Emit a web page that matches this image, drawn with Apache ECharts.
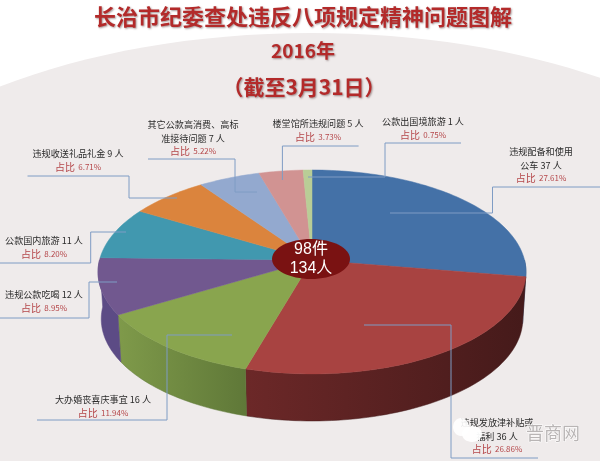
<!DOCTYPE html>
<html><head><meta charset="utf-8">
<style>html,body{margin:0;padding:0;background:#fff}#c{width:600px;height:461px}</style>
<script src="https://cdn.jsdelivr.net/npm/echarts@6/dist/echarts.min.js"></script></head>
<body><div id="c"></div>
<script>
var categories=['违规配备和使用公车','违规发放津补贴或福利','大办婚丧喜庆事宜','违规公款吃喝','公款国内旅游','违规收送礼品礼金','其它公款高消费、高标准接待问题','楼堂馆所违规问题','公款出国境旅游'];
var people=[37,36,16,12,11,9,7,5,1];
var shares=['27.61%','26.86%','11.94%','8.95%','8.20%','6.71%','5.22%','3.73%','0.75%'];
var topColors=['#4471a7','#a84341','#89a54e','#71588f','#4198af','#db843d','#93a9cf','#d19392','#b9cd96'];
var wallLeft=['#2f4f76','#6c2828','#7f9a4a','#5c4b85','#2d6b7b','#9a5c2b','#6a7a96','#94696a','#84926a'];
var wallRight=['#2f4f76','#451a1a','#5f7838','#5c4b85','#2d6b7b','#9a5c2b','#6a7a96','#94696a','#84926a'];
var labelLines=[['违规配备和使用','公车 37 人'],['违规发放津补贴或','福利 36 人'],['大办婚丧喜庆事宜 16 人'],['违规公款吃喝 12 人'],['公款国内旅游 11 人'],['违规收送礼品礼金 9 人'],['其它公款高消费、高标','准接待问题 7 人'],['楼堂馆所违规问题 5 人'],['公款出国境旅游 1 人']];
var titleLines=['长治市纪委查处违反八项规定精神问题图解','2016年','（截至3月31日）'];
var centerLines=['98件','134人'];

// layout (not data)
var P={cx:312,apexY:260,a:70,c:-0.1176,k:212.5,depth:47,shrink:0.985};
var labelAt=[[541,152],[497,423],[103,400],[44,295],[44,241],[78,154],[193,125],[318,124],[423,122]];
var leaders=[
 [[600,187],[492.5,187],[492.5,213],[390,213]],
 [[538,458],[451,458],[451,325],[364,325]],
 [[37,420],[167,420],[167,335],[232,335]],
 [[0,318],[89,318],[89,282],[117,282]],
 [[0,263],[90.7,263],[90.7,232],[126,232]],
 [[27.5,176],[129,176],[129,198],[177,198]],
 [[148,159],[235,159],[235,192],[257,192]],
 [[358.6,146],[282.4,146],[282.4,180]],
 [[461,143],[385,143],[385,177],[308,177]]
];

var total=people.reduce(function(a,b){return a+b},0);
var starts=[],acc=0;people.forEach(function(v){starts.push(acc/total*360);acc+=v});
function proj(deg){var t=deg*Math.PI/180,u=Math.sin(t),v=-Math.cos(t),d=1+P.c*v;
 return [P.cx+P.k*u/d,(P.a*v+P.apexY)/d]}
function arc(a,b){var n=Math.max(2,Math.ceil((b-a)/1.5)),o=[];for(var i=0;i<=n;i++)o.push(proj(a+(b-a)*i/n));return o}
function renderTop(params,api){var i=params.dataIndex,a=starts[i],b=a+api.value(0)/total*360;
 var pts=[[P.cx,P.apexY]].concat(arc(a,b));
 return {type:'polygon',shape:{points:pts},style:{fill:topColors[i],stroke:topColors[i],lineWidth:0.5}}}
function renderWall(params,api){var i=params.dataIndex,a=Math.max(starts[i],90),b=Math.min(starts[i]+api.value(0)/total*360,270);
 if(b<=a)return null;
 var up=arc(a,b),low=up.map(function(p){return [P.cx+(p[0]-P.cx)*P.shrink,p[1]+P.depth]}).reverse();
 return {type:'polygon',shape:{points:up.concat(low)},style:{stroke:wallRight[i],lineWidth:0.5,
  fill:new echarts.graphic.LinearGradient(0,0,1,0,[{offset:0,color:wallLeft[i]},{offset:1,color:wallRight[i]}])}}}

var graphics=[{type:'ellipse',z:-10,shape:{cx:312,cy:284,rx:505,ry:251},style:{fill:'#efebeb'}}];
leaders.forEach(function(p){graphics.push({type:'polyline',z:20,shape:{points:p},style:{stroke:'#7f9cc4',lineWidth:1,fill:null}})});
labelLines.forEach(function(lines,i){var at=labelAt[i];
 lines.forEach(function(t,j){graphics.push({type:'text',z:21,x:at[0],y:at[1]+j*13.5,style:{text:t,align:'center',verticalAlign:'middle',fill:'#2b2b2b',font:'9.1px "Noto Sans CJK SC"'}})});
 graphics.push({type:'text',z:21,x:at[0],y:at[1]+lines.length*13,style:{align:'center',verticalAlign:'middle',
  rich:{a:{fill:'#b5474a',font:'10px "Noto Sans CJK SC"'},b:{fill:'#b5474a',font:'8px "Noto Sans CJK SC"'}},text:'{a|占比} {b|'+shares[i]+'}'}});
});
graphics.push({type:'ellipse',z:22,shape:{cx:311,cy:259,rx:39,ry:20},style:{fill:'#7a1212'}});
centerLines.forEach(function(t,j){graphics.push({type:'text',z:23,x:311,y:250+j*19,style:{text:t,align:'center',verticalAlign:'middle',fill:'#fff',font:'16px "Liberation Sans","Noto Sans CJK SC"'}})});
// watermark
graphics.push({type:'ellipse',z:24,shape:{cx:461,cy:427,rx:8,ry:9},style:{fill:'rgba(255,255,255,.9)'}});
graphics.push({type:'ellipse',z:24,shape:{cx:472,cy:434,rx:10,ry:8},style:{fill:'rgba(255,255,255,.95)'}});
graphics.push({type:'text',z:24,x:526,y:433,style:{text:'晋商网',verticalAlign:'middle',fill:'#b9b5b5',stroke:'#fff',lineWidth:1,font:'18px "Noto Sans CJK SC"'}});

var tStyle={color:'#b32a2a',fontWeight:'bold',fontFamily:'"Noto Sans CJK SC"',textShadowColor:'rgba(90,60,60,.55)',textShadowBlur:2,textShadowOffsetX:1,textShadowOffsetY:1};
function ts(size){return Object.assign({},tStyle,{fontSize:size})}
var chart=echarts.init(document.getElementById('c'),null,{renderer:'canvas'});
chart.setOption({animation:false,
 title:[
  {text:titleLines[0],left:298,top:1,textAlign:'center',textStyle:ts(22)},
  {text:titleLines[1],left:298,top:36,textAlign:'center',textStyle:ts(19)},
  {text:titleLines[2],left:299,top:72,textAlign:'center',textStyle:ts(21)}],
 graphic:graphics,
 series:[
  {type:'custom',name:'wall',coordinateSystem:'none',z:2,silent:true,renderItem:renderWall,data:people.map(function(v,i){return {name:categories[i],value:[v]}})},
  {type:'custom',name:'top',coordinateSystem:'none',z:3,silent:true,renderItem:renderTop,data:people.map(function(v,i){return {name:categories[i],value:[v]}})}
 ]});
</script></body></html>
